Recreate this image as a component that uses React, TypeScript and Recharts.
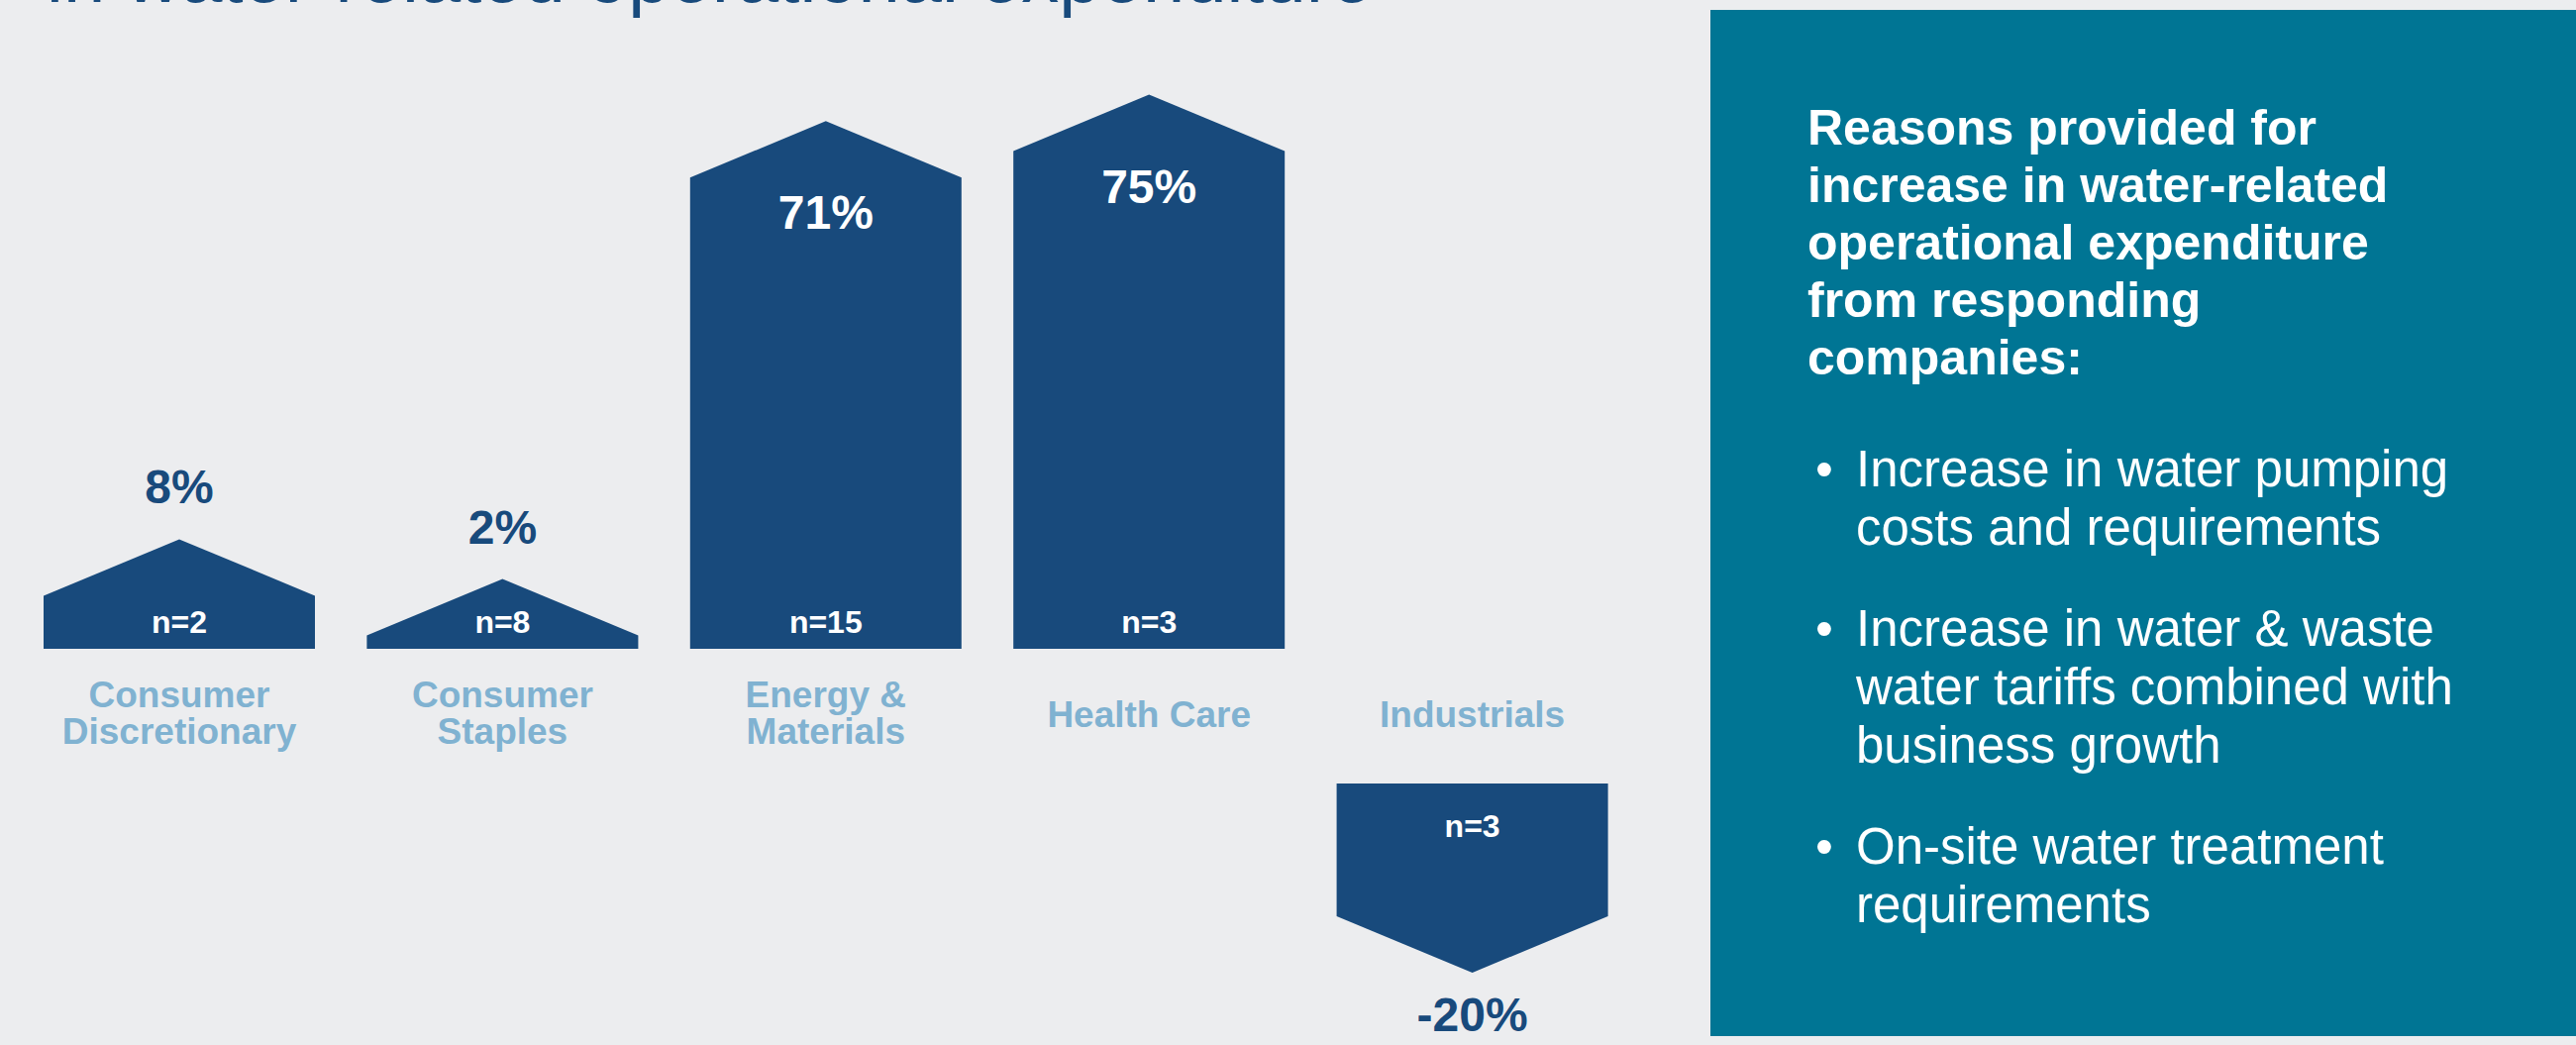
import React from 'react';
import { BarChart, Bar, XAxis, YAxis } from 'recharts';

const categories = ['Consumer Discretionary', 'Consumer Staples', 'Energy & Materials', 'Health Care', 'Industrials'];
const categoryLines = [['Consumer', 'Discretionary'], ['Consumer', 'Staples'], ['Energy &', 'Materials'], ['Health Care'], ['Industrials']];
const changePct = [8, 2, 71, 75, -20];
const respondents = [2, 8, 15, 3, 3];

const titleText = 'in water-related operational expenditure';
const panelHeading = ['Reasons provided for', 'increase in water-related', 'operational expenditure', 'from responding', 'companies:'];
const panelBullets = [
  ['Increase in water pumping', 'costs and requirements'],
  ['Increase in water & waste', 'water tariffs combined with', 'business growth'],
  ['On-site water treatment', 'requirements'],
];

const BAR = '#184A7C';
const LIGHT = '#80B2D1';
const PANEL = '#007594';
const BG = '#ECEDEF';
const FONT = '"Liberation Sans", Arial, Helvetica, sans-serif';

const TIP = 57; // arrow head height
const GAP = 136; // negative bars sit below the category labels

const data = categories.map((c, i) => ({
  category: c,
  lines: categoryLines[i],
  value: changePct[i],
  n: respondents[i],
}));

function ArrowBar(props: any) {
  const { x, y, width, height, payload } = props;
  const top = Math.min(y, y + height);
  const bottom = Math.max(y, y + height);
  const cx = x + width / 2;
  const v = payload.value;
  const lines: string[] = payload.lines;

  if (v >= 0) {
    const base = bottom;
    const pts = `${x},${base} ${x},${top} ${cx},${top - TIP} ${x + width},${top} ${x + width},${base}`;
    const big = v > 30;
    const catY = lines.length === 1 ? [base + 79] : [base + 59, base + 96];
    return (
      <g>
        <polygon points={pts} fill={BAR} />
        <text x={cx} y={base - 16} textAnchor="middle" fill="#fff" fontSize={32} fontWeight={700} fontFamily={FONT}>
          {`n=${payload.n}`}
        </text>
        <text
          x={cx}
          y={big ? top + 52 : top - TIP - 36}
          textAnchor="middle"
          fill={big ? '#fff' : BAR}
          fontSize={48}
          fontWeight={700}
          fontFamily={FONT}
        >
          {`${v}%`}
        </text>
        {lines.map((l, i) => (
          <text key={i} x={cx} y={catY[i]} textAnchor="middle" fill={LIGHT} fontSize={37} fontWeight={700} fontFamily={FONT}>
            {l}
          </text>
        ))}
      </g>
    );
  }

  const base = top;
  const t = top + GAP;
  const b = bottom + GAP;
  const pts = `${x},${t} ${x + width},${t} ${x + width},${b} ${cx},${b + TIP} ${x},${b}`;
  const catY = lines.length === 1 ? [base + 79] : [base + 59, base + 96];
  return (
    <g>
      <polygon points={pts} fill={BAR} />
      <text x={cx} y={t + 54} textAnchor="middle" fill="#fff" fontSize={32} fontWeight={700} fontFamily={FONT}>
        {`n=${payload.n}`}
      </text>
      <text x={cx} y={b + TIP + 59} textAnchor="middle" fill={BAR} fontSize={48} fontWeight={700} fontFamily={FONT}>
        {`${v}%`}
      </text>
      {lines.map((l, i) => (
        <text key={i} x={cx} y={catY[i]} textAnchor="middle" fill={LIGHT} fontSize={37} fontWeight={700} fontFamily={FONT}>
          {l}
        </text>
      ))}
    </g>
  );
}

export default function App() {
  return (
    <div style={{ position: 'absolute', left: 0, top: 0, width: 2601, height: 1055, background: BG, overflow: 'hidden', fontFamily: FONT }}>
      <div
        style={{
          position: 'absolute',
          left: 47,
          top: -62,
          fontSize: 76,
          lineHeight: '76px',
          fontWeight: 300,
          color: BAR,
          whiteSpace: 'nowrap',
        }}
      >
        {titleText}
      </div>

      <div style={{ position: 'absolute', left: 0, top: 0 }}>
        <BarChart width={1680} height={1055} data={data} margin={{ top: 119, right: 30, bottom: 266, left: 18 }}>
          <XAxis dataKey="category" hide />
          <YAxis hide domain={[-20, 80]} />
          <Bar dataKey="value" barSize={274} shape={ArrowBar} isAnimationActive={false} />
        </BarChart>
      </div>

      <div
        style={{
          position: 'absolute',
          left: 1727,
          top: 10,
          width: 874,
          height: 1036,
          background: PANEL,
          color: '#fff',
          boxSizing: 'border-box',
          paddingLeft: 98,
          paddingTop: 90,
        }}
      >
        <div style={{ fontSize: 50, fontWeight: 700, lineHeight: '58px' }}>
          {panelHeading.map((l, i) => (
            <div key={i}>{l}</div>
          ))}
        </div>
        <div style={{ marginTop: 54 }}>
          {panelBullets.map((item, i) => (
            <div key={i} style={{ display: 'flex', fontSize: 51, lineHeight: '59px', marginTop: i === 0 ? 0 : 43 }}>
              <div style={{ width: 41, paddingLeft: 8 }}>•</div>
              <div>
                {item.map((l, j) => (
                  <div key={j}>{l}</div>
                ))}
              </div>
            </div>
          ))}
        </div>
      </div>
    </div>
  );
}
